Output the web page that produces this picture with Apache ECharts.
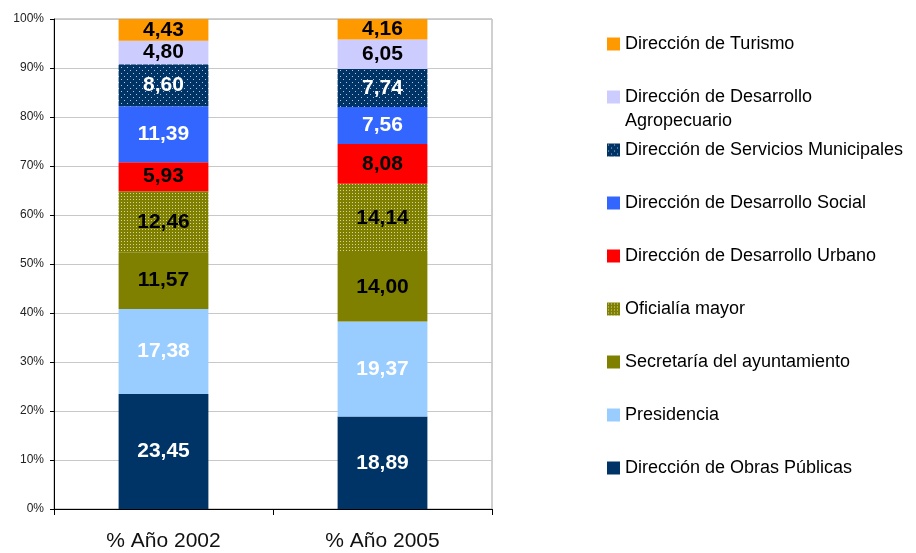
<!DOCTYPE html>
<html>
<head>
<meta charset="utf-8">
<script src="https://cdn.jsdelivr.net/npm/echarts@6/dist/echarts.min.js"></script>
<style>
  html, body { margin: 0; padding: 0; background: #fff; }
  #chart { width: 916px; height: 553px; }
</style>
</head>
<body>
<div id="chart"></div>
<script>
// categorías y valores (%)
const years = ['% Año 2002', '% Año 2005'];
const names = [
  'Dirección de Obras Públicas',
  'Presidencia',
  'Secretaría del ayuntamiento',
  'Oficialía mayor',
  'Dirección de Desarrollo Urbano',
  'Dirección de Desarrollo Social',
  'Dirección de Servicios Municipales',
  'Dirección de Desarrollo Agropecuario',
  'Dirección de Turismo'
];
const obras = [23.45, 18.89];
const presidencia = [17.38, 19.37];
const secretaria = [11.57, 14.00];
const oficialia = [12.46, 14.14];
const urbano = [5.93, 8.08];
const social = [11.39, 7.56];
const servicios = [8.60, 7.74];
const agro = [4.80, 6.05];
const turismo = [4.43, 4.16];
const yTicks = ['0%', '10%', '20%', '30%', '40%', '50%', '60%', '70%', '80%', '90%', '100%'];

function makePattern(bg, dot, size, dots) {
  const c = document.createElement('canvas');
  c.width = size; c.height = size;
  const ctx = c.getContext('2d');
  ctx.fillStyle = bg;
  ctx.fillRect(0, 0, size, size);
  ctx.fillStyle = dot;
  dots.forEach(d => ctx.fillRect(d[0], d[1], 1, 1));
  return { image: c, repeat: 'repeat' };
}

const serviciosFill = makePattern('#003366', '#b8c4d8', 6, [[1, 1], [4, 4]]);
const oficialiaFill = makePattern('#808000', '#d4d4a8', 3, [[1, 1]]);

const allData = [obras, presidencia, secretaria, oficialia, urbano, social, servicios, agro, turismo];
const fills = ['#003366', '#99ccff', '#808000', oficialiaFill, '#ff0000', '#3366ff', serviciosFill, '#ccccff', '#ff9900'];
const labelColors = ['#fff', '#fff', '#000', '#000', '#000', '#fff', '#fff', '#000', '#000'];

const series = names.map((n, i) => ({
  name: n,
  type: 'bar',
  stack: 'total',
  barWidth: '41%',
  data: allData[i],
  itemStyle: { color: fills[i] },
  label: {
    show: true,
    position: 'inside',
    color: labelColors[i],
    fontFamily: 'Liberation Sans',
    fontWeight: 'bold',
    fontSize: 21,
    formatter: p => p.value.toFixed(2).replace('.', ',')
  }
}));

// leyenda: un bloque por elemento (centros verticales)
const legendCenters = [44, 97, 150, 203, 256, 309, 362, 415, 468];
const legendOrder = names.slice().reverse();
const legends = legendOrder.map((n, i) => {
  const multi = n === 'Dirección de Desarrollo Agropecuario';
  return {
    data: [{ name: n, icon: 'rect' }],
    orient: 'vertical',
    left: 607,
    top: multi ? legendCenters[i] - 36 : legendCenters[i] - 12,
    padding: 0,
    itemWidth: 13,
    itemHeight: 13,
    itemGap: 0,
    selectedMode: false,
    formatter: multi ? '\nDirección de Desarrollo\nAgropecuario' : '{name}',
    textStyle: {
      fontFamily: 'Liberation Sans',
      fontSize: 18,
      color: '#000',
      lineHeight: 24
    }
  };
});

const chart = echarts.init(document.getElementById('chart'));
chart.setOption({
  animation: false,
  grid: {
    left: 54, right: 424, top: 19, bottom: 44,
    show: true, borderColor: '#a0a0a0', borderWidth: 1
  },
  legend: legends,
  xAxis: {
    type: 'category',
    data: years,
    axisLine: { lineStyle: { color: '#000' } },
    axisTick: { show: true, length: 6, lineStyle: { color: '#000' } },
    axisLabel: {
      fontFamily: 'Liberation Sans', fontSize: 21, color: '#111', margin: 22
    }
  },
  yAxis: {
    type: 'value',
    min: 0, max: 100, interval: 10,
    axisLine: { show: true, lineStyle: { color: '#000' } },
    axisTick: { show: true, length: 4, lineStyle: { color: '#000' } },
    splitLine: { lineStyle: { color: '#c8c8c8' } },
    axisLabel: {
      fontFamily: 'Liberation Sans', fontSize: 12, color: '#222', margin: 10,
      formatter: v => yTicks[Math.round(v / 10)]
    }
  },
  series: series
});
</script>
</body>
</html>
